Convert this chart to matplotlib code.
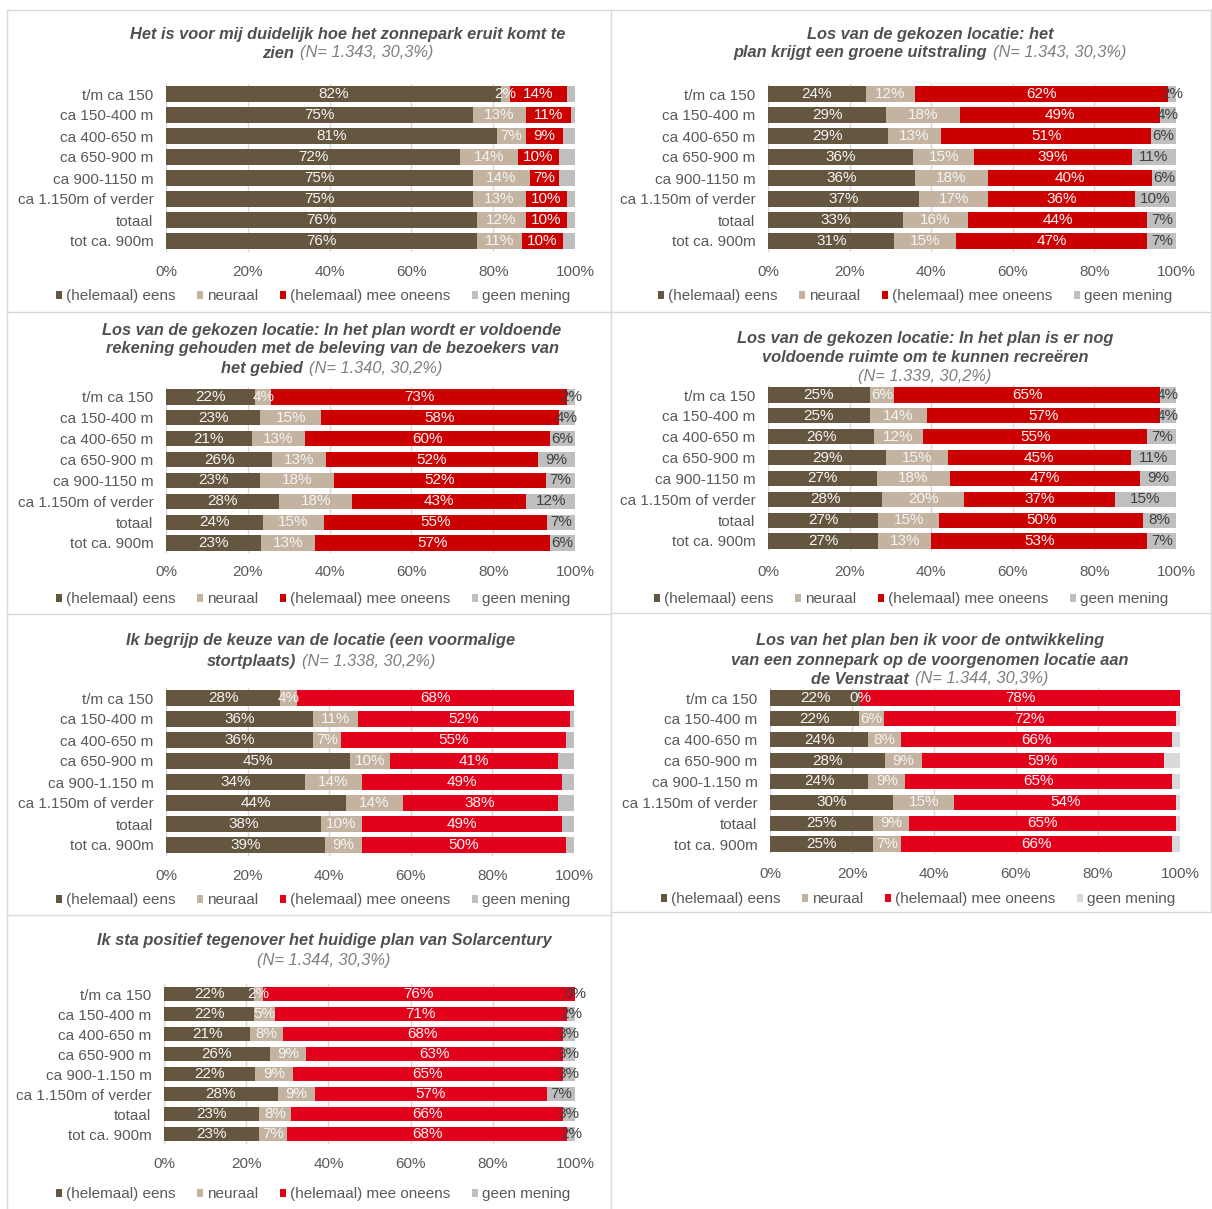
import numpy as np
import matplotlib
matplotlib.use('Agg')
import matplotlib.pyplot as plt
from matplotlib.patches import Patch
from matplotlib.lines import Line2D

plt.rcParams['font.family'] = ['Liberation Sans', 'DejaVu Sans']

W, H = 1212, 1209
FS = 11
FS_T = 11.8

# ---- data ----
cats_a = ['t/m ca 150', 'ca 150-400 m', 'ca 400-650 m', 'ca 650-900 m',
          'ca 900-1150 m', 'ca 1.150m of verder', 'totaal', 'tot ca. 900m']
cats_b = ['t/m ca 150', 'ca 150-400 m', 'ca 400-650 m', 'ca 650-900 m',
          'ca 900-1.150 m', 'ca 1.150m of verder', 'totaal', 'tot ca. 900m']
series_names = ['(helemaal) eens', 'neuraal', '(helemaal) mee oneens', 'geen mening']

# 1: duidelijk hoe het zonnepark eruit komt te zien
p1_eens = [82, 75, 81, 72, 75, 75, 76, 76]
p1_neutraal = [2, 13, 7, 14, 14, 13, 12, 11]
p1_oneens = [14, 11, 9, 10, 7, 10, 10, 10]
p1_geen = [2, 1, 3, 4, 4, 2, 2, 3]

# 2: groene uitstraling
p2_eens = [24, 29, 29, 36, 36, 37, 33, 31]
p2_neutraal = [12, 18, 13, 15, 18, 17, 16, 15]
p2_oneens = [62, 49, 51, 39, 40, 36, 44, 47]
p2_geen = [2, 4, 6, 11, 6, 10, 7, 7]

# 3: beleving van de bezoekers
p3_eens = [22, 23, 21, 26, 23, 28, 24, 23]
p3_neutraal = [4, 15, 13, 13, 18, 18, 15, 13]
p3_oneens = [73, 58, 60, 52, 52, 43, 55, 57]
p3_geen = [2, 4, 6, 9, 7, 12, 7, 6]

# 4: ruimte om te recreeren
p4_eens = [25, 25, 26, 29, 27, 28, 27, 27]
p4_neutraal = [6, 14, 12, 15, 18, 20, 15, 13]
p4_oneens = [65, 57, 55, 45, 47, 37, 50, 53]
p4_geen = [4, 4, 7, 11, 9, 15, 8, 7]

# 5: keuze van de locatie
p5_eens = [28, 36, 36, 45, 34, 44, 38, 39]
p5_neutraal = [4, 11, 7, 10, 14, 14, 10, 9]
p5_oneens = [68, 52, 55, 41, 49, 38, 49, 50]
p5_geen = [0, 1, 2, 4, 3, 4, 3, 2]

# 6: voor de ontwikkeling van een zonnepark
p6_eens = [22, 22, 24, 28, 24, 30, 25, 25]
p6_neutraal = [0, 6, 8, 9, 9, 15, 9, 7]
p6_oneens = [78, 72, 66, 59, 65, 54, 65, 66]
p6_geen = [0, 1, 2, 4, 2, 1, 1, 2]

# 7: positief tegenover het huidige plan
p7_eens = [22, 22, 21, 26, 22, 28, 23, 23]
p7_neutraal = [2, 5, 8, 9, 9, 9, 8, 7]
p7_oneens = [76, 71, 68, 63, 65, 57, 66, 68]
p7_geen = [0, 2, 3, 3, 3, 7, 3, 2]

BROWN = '#65563F'
BEIGE = '#C4B3A0'
RED_A = '#CC0000'
RED_B = '#E2001A'
GREY = '#BFBFBF'
GREY_L = '#D9D9D9'
TXT = '#595959'

panels = [
    dict(data=(p1_eens, p1_neutraal, p1_oneens, p1_geen), cats=cats_a,
         colors=(BROWN, BEIGE, RED_A, GREY), label_geen=False,
         title=[[('Het is voor mij duidelijk hoe het zonnepark eruit komt te', True)],
                [('zien', True), ('(N= 1.343, 30,3%)', False)]],
         tx=348, ty=[33, 52], x0=166, x1=575, r0=94, r1=241, tick_y=270,
         leg_x=313, leg_y=295),
    dict(data=(p2_eens, p2_neutraal, p2_oneens, p2_geen), cats=cats_a,
         colors=(BROWN, BEIGE, RED_A, GREY), label_geen=True,
         title=[[('Los van de gekozen locatie: het', True)],
                [('plan krijgt een groene uitstraling', True), ('(N= 1.343, 30,3%)', False)]],
         tx=930, ty=[33, 52], x0=768, x1=1176, r0=94, r1=241, tick_y=270,
         leg_x=915, leg_y=295),
    dict(data=(p3_eens, p3_neutraal, p3_oneens, p3_geen), cats=cats_a,
         colors=(BROWN, BEIGE, RED_A, GREY), label_geen=True,
         title=[[('Los van de gekozen locatie: In het plan wordt er voldoende', True)],
                [('rekening gehouden met de beleving van de bezoekers van', True)],
                [('het gebied', True), ('(N= 1.340, 30,2%)', False)]],
         tx=332, ty=[329, 348, 367], x0=166, x1=575, r0=397, r1=543, tick_y=571,
         leg_x=313, leg_y=598),
    dict(data=(p4_eens, p4_neutraal, p4_oneens, p4_geen), cats=cats_a,
         colors=(BROWN, BEIGE, RED_A, GREY), label_geen=True,
         title=[[('Los van de gekozen locatie: In het plan is er nog', True)],
                [('voldoende ruimte om te kunnen recreëren', True)],
                [('(N= 1.339, 30,2%)', False)]],
         tx=925, ty=[338, 357, 376], x0=768, x1=1176, r0=395, r1=541, tick_y=570,
         leg_x=911, leg_y=598),
    dict(data=(p5_eens, p5_neutraal, p5_oneens, p5_geen), cats=cats_b,
         colors=(BROWN, BEIGE, RED_B, GREY), label_geen=False,
         title=[[('Ik begrijp de keuze van de locatie (een voormalige', True)],
                [('stortplaats)', True), ('(N= 1.338, 30,2%)', False)]],
         tx=321, ty=[640, 660], x0=166, x1=574, r0=698, r1=845, tick_y=874,
         leg_x=313, leg_y=899),
    dict(data=(p6_eens, p6_neutraal, p6_oneens, p6_geen), cats=cats_b,
         colors=(BROWN, BEIGE, RED_B, GREY_L), label_geen=False,
         title=[[('Los van het plan ben ik voor de ontwikkeling', True)],
                [('van een zonnepark op de voorgenomen locatie aan', True)],
                [('de Venstraat', True), ('(N= 1.344, 30,3%)', False)]],
         tx=930, ty=[640, 659, 678], x0=770, x1=1180, r0=698, r1=844, tick_y=872,
         leg_x=918, leg_y=898),
    dict(data=(p7_eens, p7_neutraal, p7_oneens, p7_geen), cats=cats_b,
         colors=(BROWN, BEIGE, RED_B, GREY), label_geen=True,
         title=[[('Ik sta positief tegenover het huidige plan van Solarcentury', True)],
                [('(N= 1.344, 30,3%)', False)]],
         tx=324, ty=[940, 959], x0=164, x1=575, r0=994, r1=1134, tick_y=1162,
         leg_x=313, leg_y=1193),
]

fig = plt.figure(figsize=(W / 100, H / 100), dpi=100)
fig.patch.set_facecolor('white')
renderer = fig.canvas.get_renderer()


def fx(x):
    return x / W


def fy(y):
    return 1 - y / H


def title_line(segments, cx, cy):
    texts = []
    for s, bold in segments:
        t = fig.text(0, 0, s, fontsize=FS_T, style='italic',
                     weight='bold' if bold else 'normal',
                     color='#505050' if bold else '#7F7F7F', ha='left', va='center')
        texts.append(t)
    widths = [t.get_window_extent(renderer).width for t in texts]
    gap = 6
    total = sum(widths) + gap * (len(texts) - 1)
    x = cx - total / 2
    for t, w in zip(texts, widths):
        t.set_position((fx(x), fy(cy + 1)))
        x += w + gap


for p in panels:
    n = len(p['cats'])
    step = (p['r1'] - p['r0']) / (n - 1)
    top = p['r0'] - step / 2
    bottom = p['r1'] + step / 2
    ax = fig.add_axes([fx(p['x0']), fy(bottom), (p['x1'] - p['x0']) / W,
                       (bottom - top) / H])
    vals = np.array(p['data'], dtype=float)
    shares = vals / vals.sum(axis=0) * 100
    y = np.arange(n)
    left = np.zeros(n)
    for k in range(4):
        ax.barh(y, shares[k], left=left, height=0.72, color=p['colors'][k],
                label=series_names[k], zorder=2)
        if k < 3 or p['label_geen']:
            col = '#404040' if k == 3 else '#F5F5F5'
            for i in range(n):
                ax.text(left[i] + shares[k][i] / 2, y[i], '%d%%' % vals[k][i],
                        ha='center', va='center', fontsize=FS, color=col, zorder=3)
        left = left + shares[k]
    ax.set_ylim(n - 0.5, -0.5)
    ax.set_xlim(0, 100)
    ax.set_yticks(y)
    ax.set_yticklabels(p['cats'])
    ax.set_xticks(np.arange(0, 101, 20))
    ax.set_xticklabels(['%d%%' % v for v in range(0, 101, 20)])
    ax.tick_params(axis='both', length=0, labelsize=FS, labelcolor=TXT)
    ax.tick_params(axis='y', pad=9)
    ax.tick_params(axis='x', pad=(p['tick_y'] - bottom - 5.5) * 0.72)
    ax.grid(axis='x', color='#D9D9D9', lw=1, zorder=0)
    ax.set_axisbelow(True)
    for s in ax.spines.values():
        s.set_visible(False)

    for line, cy in zip(p['title'], p['ty']):
        title_line(line, p['tx'], cy)

    handles = [Patch(facecolor=c, edgecolor='none') for c in p['colors']]
    fig.legend(handles, series_names, loc='center',
               bbox_to_anchor=(fx(p['leg_x']), fy(p['leg_y'] + 1)), ncol=4,
               frameon=False, fontsize=FS, labelcolor=TXT, handlelength=0.42,
               handleheight=0.42, handletextpad=0.25, columnspacing=1.4,
               borderpad=0, borderaxespad=0)

# panel borders
border = '#D9D9D9'
segs = [
    ((7, 7), (10, 1209)),
    ((611, 611), (10, 1209)),
    ((1211, 1211), (10, 912)),
    ((7, 1211), (10, 10)),
    ((7, 1211), (312, 312)),
    ((7, 611), (614, 614)),
    ((611, 1211), (613, 613)),
    ((7, 611), (915, 915)),
    ((611, 1211), (912, 912)),
]
for xs, ys in segs:
    fig.add_artist(Line2D([fx(xs[0]), fx(xs[1])], [fy(ys[0]), fy(ys[1])],
                          color=border, lw=1))

fig.savefig('out.png', dpi=100, facecolor='white')
